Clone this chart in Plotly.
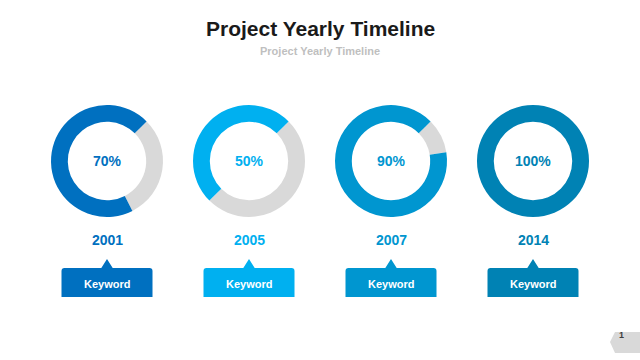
import plotly.graph_objects as go

years = ["2001", "2005", "2007", "2014"]
percent = [70, 50, 90, 100]
colors = ["#0070C0", "#00B0F0", "#0096D0", "#0082B4"]
keywords = ["Keyword", "Keyword", "Keyword", "Keyword"]
track_color = "#D9D9D9"

W, H = 640, 360
spacing = 142.0
first_cx = 107.0
cy = 161.0
radius = 56.0

FONT = "Arial, Liberation Sans, sans-serif"

fig = go.Figure()

x_left = -first_cx / spacing
x_right = x_left + W / spacing

for i, (yr, p, c) in enumerate(zip(years, percent, colors)):
    cx = (i - x_left) * spacing
    fig.add_trace(go.Pie(
        values=[100 - p, p],
        marker=dict(colors=[track_color, c], line=dict(width=0)),
        hole=0.70,
        sort=False,
        direction="clockwise",
        rotation=45,
        textinfo="none",
        hoverinfo="skip",
        showlegend=False,
        domain=dict(x=[(cx - radius) / W, (cx + radius) / W],
                    y=[1 - (cy + radius) / H, 1 - (cy - radius) / H]),
    ))
    fig.add_annotation(x=i, y=cy, xref="x", yref="y", text=f"<b>{p}%</b>",
                       showarrow=False, font=dict(family=FONT, size=14, color=c))
    fig.add_annotation(x=i, y=240, xref="x", yref="y", text=f"<b>{yr}</b>",
                       showarrow=False, font=dict(family=FONT, size=14, color=c))
    hw = 45.5 / spacing
    tw = 5.7 / spacing
    rx = 3 / spacing
    ry = 3
    x0, x1 = i - hw, i + hw
    top, bot = 268, 297
    path = (f"M {x0},{bot} L {x0},{top + ry} Q {x0},{top} {x0 + rx},{top} "
            f"L {i - tw},{top} L {i},{top - 9} L {i + tw},{top} "
            f"L {x1 - rx},{top} Q {x1},{top} {x1},{top + ry} L {x1},{bot} Z")
    fig.add_shape(type="path", path=path, xref="x", yref="y",
                  fillcolor=c, line=dict(width=0), layer="below")
    fig.add_annotation(x=i, y=284, xref="x", yref="y", text=f"<b>{keywords[i]}</b>",
                       showarrow=False, font=dict(family=FONT, size=11, color="white"))

fig.add_trace(go.Scatter(x=[0], y=[0], mode="markers", marker=dict(opacity=0),
                         hoverinfo="skip", showlegend=False))

# page number tag
fig.add_shape(type="path", xref="paper", yref="paper",
              path=f"M {610/W},{1-342/H} L {615/W},{1-332/H} L 1,{1-332/H} L 1,{1-353/H} L {615/W},{1-353/H} Z",
              fillcolor="#D9D9D9", line=dict(width=0))
fig.add_annotation(x=626 / W, y=1 - 342 / H, xref="paper", yref="paper", text="<b>1</b>",
                   showarrow=False, font=dict(family=FONT, size=9, color="#404040"))

fig.add_annotation(x=0.5, y=1 - 42 / H, xref="paper", yref="paper", yanchor="bottom",
                   text="<b>Project Yearly Timeline</b>", showarrow=False,
                   font=dict(family=FONT, size=21, color="#1A1A1A"))
fig.add_annotation(x=0.5, y=1 - 43 / H, xref="paper", yref="paper", yanchor="top",
                   text="<b>Project Yearly Timeline</b>", showarrow=False,
                   font=dict(family=FONT, size=11, color="#BFBFBF"))

fig.update_layout(
    width=W, height=H,
    margin=dict(l=0, r=0, t=0, b=0),
    paper_bgcolor="white", plot_bgcolor="white",
    xaxis=dict(range=[x_left, x_right], visible=False, fixedrange=True),
    yaxis=dict(range=[H, 0], visible=False, fixedrange=True),
)

fig.write_html("out.html", config={"displayModeBar": False},
               post_script="document.body.style.margin='0';")
